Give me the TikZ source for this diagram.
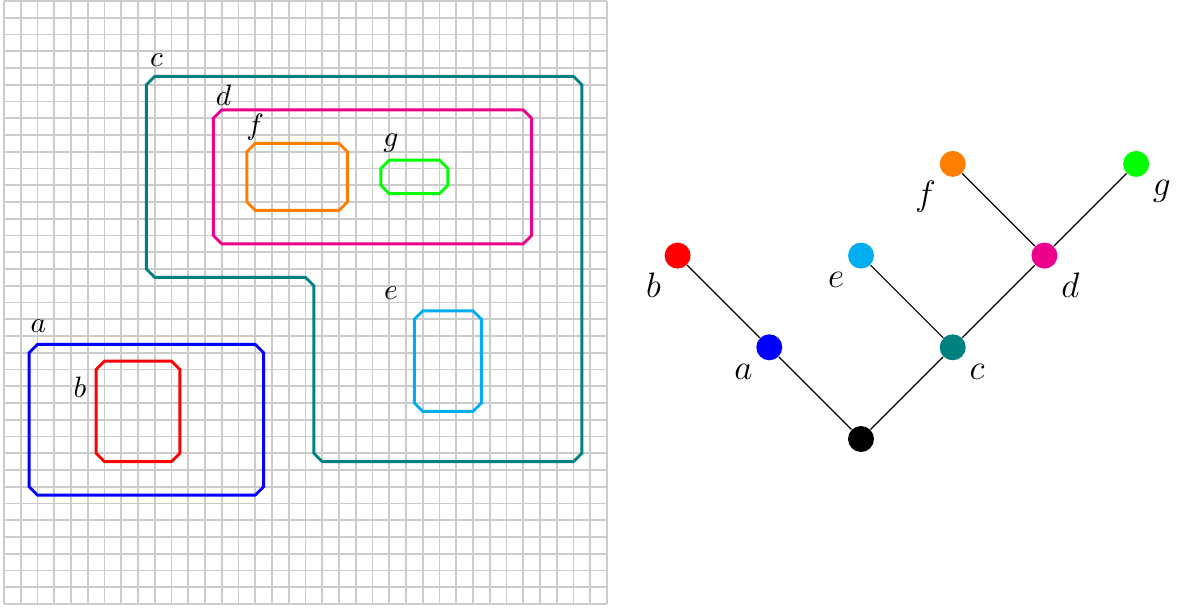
\documentclass[tikz,border=0pt]{standalone}
\usetikzlibrary{calc}

\newcommand{\cutbox}[5]{%
    \path[draw=#1, region] ({#2+0.5},#3) -- ({#4-0.5},#3) -- (#4,{#3+0.5}) -- (#4,{#5-0.5})
        -- ({#4-0.5},#5) -- ({#2+0.5},#5) -- (#2,{#5-0.5}) -- (#2,{#3+0.5}) -- cycle;}

\begin{document}
\begin{tikzpicture}
    \definecolor{Cmag}{HTML}{EC008C}
    \definecolor{Ccya}{HTML}{00AEEF}
    \tikzset{
        region/.style={line width=1pt},
        vert/.style={draw=none, shape=circle, fill=#1, minimum size=0.31cm, inner sep=0pt},
        tag/.style={font=\large}
    }

    \useasboundingbox (-0.048,-0.048) rectangle (14.066,7.212);

    \begin{scope}[x=0.2cm, y=0.2cm]
        \path[draw=black!20, line width=0.6pt, step=0.2cm] (0,0) grid (36,36);

        \path[draw=teal, region] (8.5,20) -- (9,19.5) -- (18,19.5) -- (18.5,19) -- (18.5,9) -- (19,8.5)
            -- (34,8.5) -- (34.5,9) -- (34.5,31) -- (34,31.5) -- (9,31.5) -- (8.5,31) -- cycle;
        \cutbox{Cmag}{12.5}{21.5}{31.5}{29.5}
        \cutbox{orange}{14.5}{23.5}{20.5}{27.5}
        \cutbox{green}{22.5}{24.5}{26.5}{26.5}
        \cutbox{Ccya}{24.5}{11.5}{28.5}{17.5}
        \cutbox{blue}{1.5}{6.5}{15.5}{15.5}
        \cutbox{red}{5.5}{8.5}{10.5}{14.5}

        \node (lc) at (9.1,32.48) {$c$};
        \node (ld) at (13.1,30.39) {$d$};
        \node (lf) at (15.0,28.5) {$f$};
        \node (lg) at (23.1,27.5) {$g$};
        \node (le) at (23.1,18.57) {$e$};
        \node (la) at (2.05,16.56) {$a$};
        \node (lb) at (4.54,12.96) {$b$};
    \end{scope}

    \begin{scope}[xshift=10.233cm, yshift=1.97cm, x=1.095cm, y=1.095cm]
        \tikzset{every label/.style={tag, label distance=-1.5pt}}
        \node[vert=black] (r) at (0,0) {};
        \node[vert=blue, label=225:$a$] (a) at (-1,1) {};
        \node[vert=red, label=225:$b$] (b) at (-2,2) {};
        \node[vert=teal, label=315:$c$] (c) at (1,1) {};
        \node[vert=Ccya, label=225:$e$] (e) at (0,2) {};
        \node[vert=Cmag, label=315:$d$] (d) at (2,2) {};
        \node[vert=orange, label=225:$f$] (f) at (1,3) {};
        \node[vert=green, label=315:$g$] (g) at (3,3) {};

        \path[draw] (r) -- (a) -- (b);
        \path[draw] (r) -- (c) -- (e);
        \path[draw] (c) -- (d) -- (f);
        \path[draw] (d) -- (g);
    \end{scope}
\end{tikzpicture}
\end{document}
